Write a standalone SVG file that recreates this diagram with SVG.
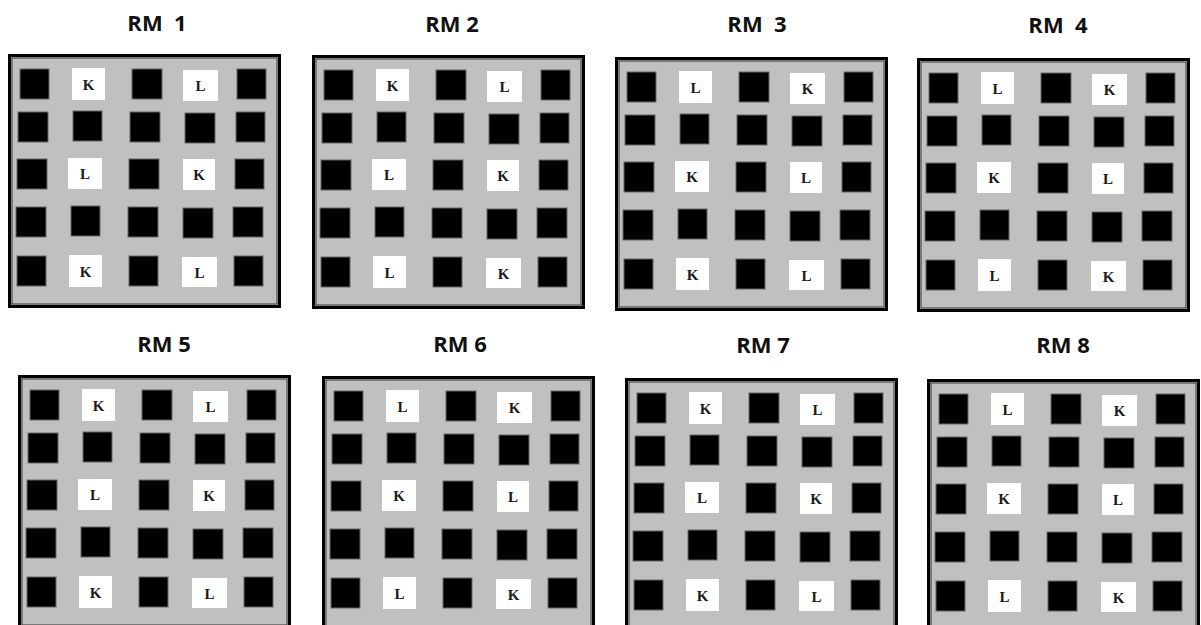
<svg xmlns="http://www.w3.org/2000/svg" xmlns:xlink="http://www.w3.org/1999/xlink" width="1201" height="625" viewBox="0 0 1201 625">
<style>
.title{font-family:"Open Sans","Liberation Sans",sans-serif;font-weight:700;font-size:22px;fill:#111;text-anchor:middle;white-space:pre}
.frame{fill:#c0c0c0;stroke:#000;stroke-width:3}
.inner{fill:none;stroke:#333;stroke-width:1}
.b{fill:#000;stroke:#666;stroke-width:1}
.w{fill:#fff}
.t{font-family:"Liberation Serif","Times New Roman",serif;font-size:15px;font-weight:700;fill:#1a1a1a;text-anchor:middle}
</style>
<defs>
<g id="grid">
<rect class="frame" x="1.5" y="1.5" width="270" height="251"/>
<rect class="inner" x="4" y="4" width="265" height="246"/>
<rect class="b" x="12" y="15" width="29" height="30"/>
<rect class="b" x="124" y="15" width="30" height="30"/>
<rect class="b" x="229" y="15" width="29" height="30"/>
<rect class="b" x="10" y="58" width="30" height="30"/>
<rect class="b" x="65" y="57" width="29" height="30"/>
<rect class="b" x="122" y="58" width="30" height="30"/>
<rect class="b" x="177" y="59" width="30" height="30"/>
<rect class="b" x="228" y="58" width="29" height="30"/>
<rect class="b" x="9" y="105" width="30" height="30"/>
<rect class="b" x="121" y="105" width="30" height="30"/>
<rect class="b" x="227" y="105" width="29" height="30"/>
<rect class="b" x="8" y="153" width="30" height="30"/>
<rect class="b" x="63" y="152" width="29" height="30"/>
<rect class="b" x="120" y="153" width="30" height="30"/>
<rect class="b" x="175" y="154" width="30" height="30"/>
<rect class="b" x="225" y="153" width="30" height="30"/>
<rect class="b" x="9" y="202" width="29" height="30"/>
<rect class="b" x="121" y="202" width="29" height="30"/>
<rect class="b" x="226" y="202" width="29" height="30"/>
<rect class="w" x="64" y="14" width="33" height="32"/>
<rect class="w" x="175" y="16" width="35" height="31"/>
<rect class="w" x="60" y="104" width="34" height="31"/>
<rect class="w" x="175" y="105" width="32" height="31"/>
<rect class="w" x="61" y="201" width="33" height="32"/>
<rect class="w" x="174" y="203" width="35" height="30"/>
</g>
</defs>
<rect x="0" y="0" width="1201" height="625" fill="#fff"/>

<g id="rm1">
<text class="title" x="157" y="31">RM  1</text>
<g transform="translate(8,54)">
<use xlink:href="#grid" href="#grid"/>
<text class="t" x="80.5" y="36">K</text><text class="t" x="192.5" y="37">L</text>
<text class="t" x="77" y="125">L</text><text class="t" x="191" y="126">K</text>
<text class="t" x="77.5" y="222.5">K</text><text class="t" x="191.5" y="223.5">L</text>
</g>
</g>

<g id="rm2">
<text class="title" x="452" y="32">RM 2</text>
<g transform="translate(312,55)">
<use xlink:href="#grid" href="#grid"/>
<text class="t" x="80.5" y="36">K</text><text class="t" x="192.5" y="37">L</text>
<text class="t" x="77" y="125">L</text><text class="t" x="191" y="126">K</text>
<text class="t" x="77.5" y="222.5">L</text><text class="t" x="191.5" y="223.5">K</text>
</g>
</g>

<g id="rm3">
<text class="title" x="757" y="32">RM  3</text>
<g transform="translate(615,57)">
<use xlink:href="#grid" href="#grid"/>
<text class="t" x="80.5" y="36">L</text><text class="t" x="192.5" y="37">K</text>
<text class="t" x="77" y="125">K</text><text class="t" x="191" y="126">L</text>
<text class="t" x="77.5" y="222.5">K</text><text class="t" x="191.5" y="223.5">L</text>
</g>
</g>

<g id="rm4">
<text class="title" x="1058" y="33">RM  4</text>
<g transform="translate(917,58)">
<use xlink:href="#grid" href="#grid"/>
<text class="t" x="80.5" y="36">L</text><text class="t" x="192.5" y="37">K</text>
<text class="t" x="77" y="125">K</text><text class="t" x="191" y="126">L</text>
<text class="t" x="77.5" y="222.5">L</text><text class="t" x="191.5" y="223.5">K</text>
</g>
</g>

<g id="rm5">
<text class="title" x="164" y="352">RM 5</text>
<g transform="translate(18,375)">
<use xlink:href="#grid" href="#grid"/>
<text class="t" x="80.5" y="36">K</text><text class="t" x="192.5" y="37">L</text>
<text class="t" x="77" y="125">L</text><text class="t" x="191" y="126">K</text>
<text class="t" x="77.5" y="222.5">K</text><text class="t" x="191.5" y="223.5">L</text>
</g>
</g>

<g id="rm6">
<text class="title" x="460" y="352">RM 6</text>
<g transform="translate(322,376)">
<use xlink:href="#grid" href="#grid"/>
<text class="t" x="80.5" y="36">L</text><text class="t" x="192.5" y="37">K</text>
<text class="t" x="77" y="125">K</text><text class="t" x="191" y="126">L</text>
<text class="t" x="77.5" y="222.5">L</text><text class="t" x="191.5" y="223.5">K</text>
</g>
</g>

<g id="rm7">
<text class="title" x="763" y="353">RM 7</text>
<g transform="translate(625,378)">
<use xlink:href="#grid" href="#grid"/>
<text class="t" x="80.5" y="36">K</text><text class="t" x="192.5" y="37">L</text>
<text class="t" x="77" y="125">L</text><text class="t" x="191" y="126">K</text>
<text class="t" x="77.5" y="222.5">K</text><text class="t" x="191.5" y="223.5">L</text>
</g>
</g>

<g id="rm8">
<text class="title" x="1063" y="353">RM 8</text>
<g transform="translate(927,379)">
<use xlink:href="#grid" href="#grid"/>
<text class="t" x="80.5" y="36">L</text><text class="t" x="192.5" y="37">K</text>
<text class="t" x="77" y="125">K</text><text class="t" x="191" y="126">L</text>
<text class="t" x="77.5" y="222.5">L</text><text class="t" x="191.5" y="223.5">K</text>
</g>
</g>

<g id="connectors"></g>
</svg>
